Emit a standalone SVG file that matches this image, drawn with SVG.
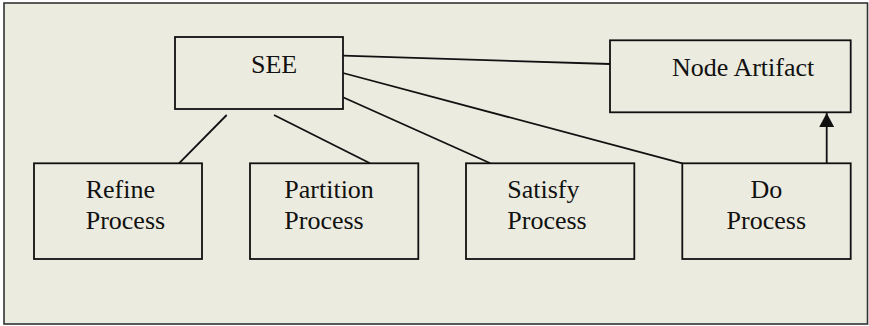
<svg xmlns="http://www.w3.org/2000/svg" width="869" height="326" viewBox="0 0 869 326">
  <style>
    .frame { fill: #ebebdf; stroke: #333; stroke-width: 1.6; }
    .box { fill: #ebebdf; stroke: #111; stroke-width: 1.8; }
    .lbl { font-family: "Liberation Serif", "Times New Roman", serif; font-size: 26px; fill: #111; }
    .conn { stroke: #111; stroke-width: 1.8; fill: none; }
  </style>
  <defs>
    <marker id="arrow" viewBox="0 0 10 10" refX="10" refY="5" markerWidth="8" markerHeight="8" markerUnits="userSpaceOnUse" orient="auto">
      <path d="M0,0 L10,5 L0,10 Z" fill="#111"/>
    </marker>
    <marker id="arrowBig" viewBox="0 0 14 15" refX="14" refY="7.5" markerWidth="14" markerHeight="15" markerUnits="userSpaceOnUse" orient="auto">
      <path d="M0,0 L14,7.5 L0,15 Z" fill="#111"/>
    </marker>
  </defs>

  <rect class="frame" x="4" y="3" width="863.5" height="321"/>

  <g id="connectors">
    <line class="conn" x1="343" y1="55.7" x2="610" y2="64"/>
    <line class="conn" x1="343" y1="73" x2="682.3" y2="163.3"/>
    <line class="conn" x1="343" y1="97.3" x2="490.3" y2="163.3"/>
    <line class="conn" x1="274" y1="115" x2="370" y2="163.3"/>
    <line class="conn" x1="226.7" y1="115" x2="179" y2="163.3"/>
    <line class="conn" x1="826.7" y1="163.3" x2="826.7" y2="113" marker-end="url(#arrowBig)"/>
  </g>

  <g id="see">
    <rect class="box" x="175" y="37" width="168" height="72"/>
    <text class="lbl" x="251" y="73">SEE</text>
  </g>

  <g id="node-artifact">
    <rect class="box" x="610" y="40.3" width="240.7" height="72"/>
    <text class="lbl" x="672" y="76">Node Artifact</text>
  </g>

  <g id="refine-process">
    <rect class="box" x="34" y="163.3" width="168" height="95.7"/>
    <text class="lbl" x="85.7" y="198.3">Refine</text>
    <text class="lbl" x="85.7" y="229">Process</text>
  </g>

  <g id="partition-process">
    <rect class="box" x="250" y="163.3" width="168.3" height="95.7"/>
    <text class="lbl" x="284.3" y="198.3">Partition</text>
    <text class="lbl" x="284.3" y="229">Process</text>
  </g>

  <g id="satisfy-process">
    <rect class="box" x="466" y="163.3" width="168.3" height="95.7"/>
    <text class="lbl" x="507.3" y="198.3">Satisfy</text>
    <text class="lbl" x="507.3" y="229">Process</text>
  </g>

  <g id="do-process">
    <rect class="box" x="682.3" y="163.3" width="168.4" height="95.7"/>
    <text class="lbl" x="766.3" y="198.3" text-anchor="middle">Do</text>
    <text class="lbl" x="766.3" y="229" text-anchor="middle">Process</text>
  </g>
</svg>
